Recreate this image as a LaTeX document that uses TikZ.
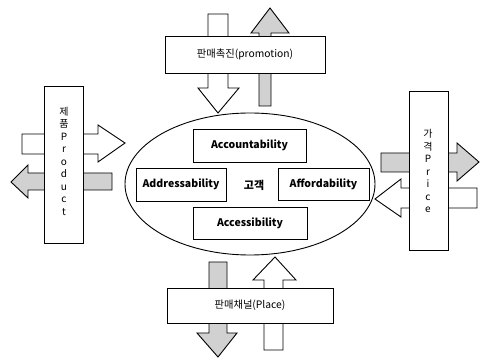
\documentclass[tikz,border=0pt]{standalone}
\usepackage{fontspec}
\setmainfont{Noto Sans CJK KR}
\begin{document}
\begin{tikzpicture}[x=1pt,y=-1pt,
  outline/.style={draw=black,line width=0.9pt,line join=miter},
  whitearrow/.style={outline,fill=white},
  grayarrow/.style={outline,fill=black!18},
  mixbox/.style={draw=black,line width=0.9pt,fill=white,inner sep=0pt,font=\fontsize{10.3}{12}\selectfont},
  factor/.style={draw=black,line width=0.9pt,fill=white,inner sep=0pt,font=\fontsize{10.5}{12}\selectfont\bfseries},
  vtext/.style={align=center,inner sep=0pt,font=\fontsize{10}{12.5}\selectfont}]
\useasboundingbox (0,0) rectangle (480,358);
% block arrows (behind the boxes)
\draw[whitearrow] (208,14)--(228,14)--(228,88)--(239,88)--(218,113)--(198,88)--(208,88)--cycle;
\draw[grayarrow] (259,106)--(271,106)--(271,33)--(289,33)--(270,8)--(251,33)--(259,33)--cycle;
\draw[whitearrow] (22,134)--(98,134)--(98,125)--(125,143)--(98,162)--(98,154)--(22,154)--cycle;
\draw[grayarrow] (112,173)--(28,173)--(28,165)--(11,182)--(28,198)--(28,190)--(112,190)--cycle;
\draw[grayarrow] (381,153)--(457,153)--(457,143)--(479,162)--(457,181)--(457,172)--(381,172)--cycle;
\draw[whitearrow] (477,188)--(401,188)--(401,179)--(375,199)--(401,217)--(401,208)--(477,208)--cycle;
\draw[grayarrow] (209,262)--(227,262)--(227,333)--(237,333)--(218,357)--(197,333)--(209,333)--cycle;
\draw[whitearrow] (264,350)--(283,350)--(283,280)--(296,280)--(275,257)--(253,280)--(264,280)--cycle;
% customer ellipse
\draw[outline,fill=white] (250,184) ellipse [x radius=125, y radius=71];
% mix boxes
\node[mixbox,minimum width=160pt,minimum height=37pt] (promo) at (245,54.5) {판매촉진(promotion)};
\node[mixbox,minimum width=166pt,minimum height=35pt] (place) at (250,305.5) {판매채널(Place)};
\node[mixbox,minimum width=39pt,minimum height=157pt] (product) at (63.5,164.5) {};
\node[vtext] (producttxt) at (64,161) {제\\품\\P\\r\\o\\d\\u\\c\\t};
\node[mixbox,minimum width=39pt,minimum height=159pt] (price) at (428.5,170.5) {};
\node[vtext] (pricetxt) at (428,171) {가\\격\\P\\r\\i\\c\\e};
% factor boxes
\node[factor,minimum width=113pt,minimum height=33pt] (acct) at (249.5,145.5) {Accountability};
\node[factor,minimum width=90pt,minimum height=33pt] (addr) at (181,184.5) {Addressability};
\node[factor,minimum width=91pt,minimum height=32pt] (aff) at (323.5,184) {Affordability};
\node[factor,minimum width=114pt,minimum height=32pt] (acc) at (250,223) {Accessibility};
\node[font=\fontsize{11}{12}\selectfont\bfseries,inner sep=0pt] (cust) at (254,185) {고객};
\end{tikzpicture}
\end{document}
